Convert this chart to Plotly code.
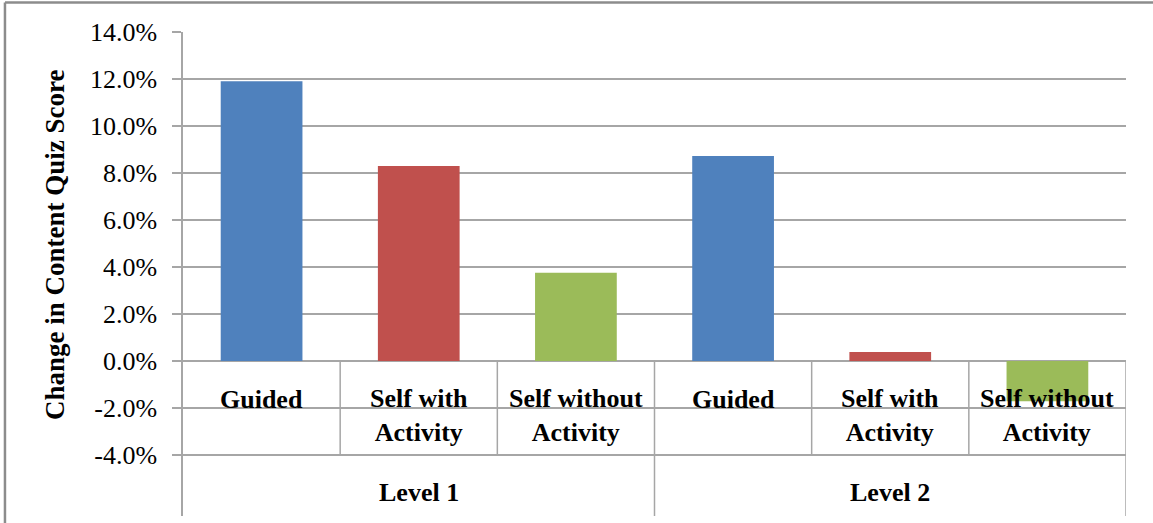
import plotly.graph_objects as go

# Data
levels = ["Level 1", "Level 2"]
groups = ["Guided", "Self with<br>Activity", "Self without<br>Activity"]
values = [11.9, 8.3, 3.75, 8.72, 0.38, -1.72]   # percent change, per level then group
colors = ["#4F81BD", "#C0504D", "#9BBB59"]
tick_values = [-4, -2, 0, 2, 4, 6, 8, 10, 12, 14]
tick_labels = ["-4.0%", "-2.0%", "0.0%", "2.0%", "4.0%", "6.0%", "8.0%", "10.0%", "12.0%", "14.0%"]

n = len(levels) * len(groups)
xpos = list(range(n))
bar_colors = [colors[i % len(groups)] for i in range(n)]

GRID = "#A6A6A6"
FONT = "Liberation Serif"
Y_MIN, Y_MAX = -6.6, 14

fig = go.Figure(go.Bar(
    x=xpos, y=values, marker_color=bar_colors, marker_line_width=0,
    width=0.52, showlegend=False,
))

# Category labels placed inside the axis band between 0 and the lowest gridline
annotations = []
for i in range(n):
    label = groups[i % len(groups)]
    two_line = "<br>" in label
    annotations.append(dict(
        x=i, y=-1.66 - (0.68 if two_line else 0),
        xref="x", yref="y", text="<b>" + label.replace("<br>", "</b><br><b>") + "</b>",
        showarrow=False, yanchor="middle", xanchor="center",
        font=dict(family=FONT, size=26, color="black"),
    ))
for j, lev in enumerate(levels):
    center = j * len(groups) + (len(groups) - 1) / 2
    annotations.append(dict(
        x=center, y=-5.62, xref="x", yref="y", text="<b>" + lev + "</b>",
        showarrow=False, yanchor="middle", xanchor="center",
        font=dict(family=FONT, size=26, color="black"),
    ))
# Axis title
annotations.append(dict(
    x=-0.1357, y=0.56, xref="paper", yref="paper",
    text="<b>Change in Content Quiz Score</b>", textangle=-90,
    showarrow=False, xanchor="center", yanchor="middle",
    font=dict(family=FONT, size=27, color="black"),
))

# Category separators
shapes = []
for k in range(1, n):
    bottom = Y_MIN if k % len(groups) == 0 else -4
    shapes.append(dict(type="line", xref="x", yref="y", x0=k - 0.5, x1=k - 0.5,
                       y0=0, y1=bottom, line=dict(color=GRID, width=1.5)))
shapes.append(dict(type="line", xref="x", yref="y", x0=n - 0.5, x1=n - 0.5,
                   y0=0, y1=Y_MIN, line=dict(color=GRID, width=1.5)))
# Outer frame (top and left edges)
shapes.append(dict(type="line", xref="paper", yref="paper", x0=-0.1888, x1=1.04,
                   y0=1.061, y1=1.061, line=dict(color="#8C8C8C", width=2.5)))
shapes.append(dict(type="line", xref="paper", yref="paper", x0=-0.1888, x1=-0.1888,
                   y0=1.061, y1=-0.03, line=dict(color="#8C8C8C", width=2.5)))

fig.update_layout(
    width=1153, height=523,
    margin=dict(l=183, r=27, t=32, b=7),
    paper_bgcolor="white", plot_bgcolor="white",
    annotations=annotations, shapes=shapes,
    bargap=0.48,
)
fig.update_xaxes(range=[-0.5, n - 0.5], showticklabels=False, showgrid=False,
                 zeroline=False, showline=False, fixedrange=True)
fig.update_yaxes(range=[Y_MIN, Y_MAX], tickvals=tick_values, ticktext=tick_labels,
                 showgrid=True, gridcolor=GRID, gridwidth=1.5,
                 zeroline=True, zerolinecolor=GRID, zerolinewidth=1.5,
                 showline=True, linecolor=GRID, linewidth=1.5,
                 ticks="outside", ticklen=9, tickcolor=GRID, tickwidth=1.5,
                 ticklabelstandoff=10,
                 tickfont=dict(family=FONT, size=26, color="black"))

fig.write_html("out.html")
